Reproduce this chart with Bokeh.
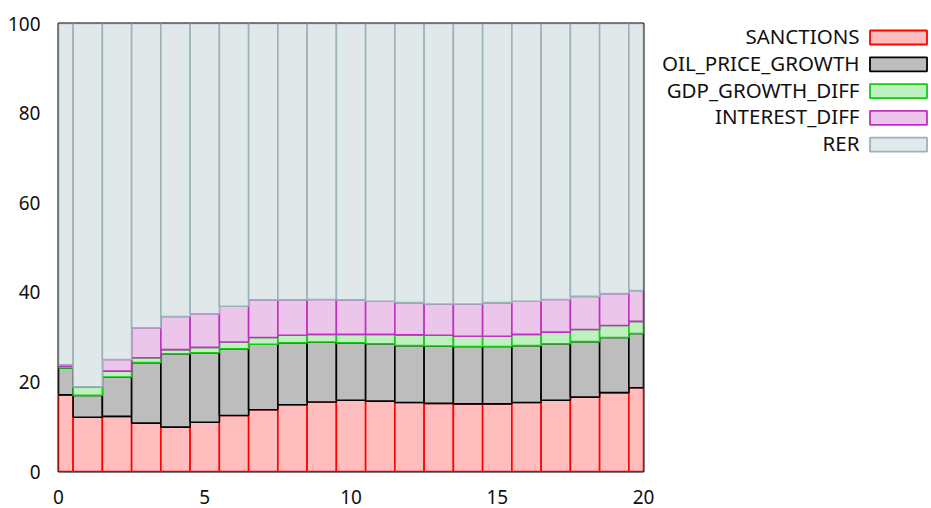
import numpy as np
from bokeh.plotting import figure
from bokeh.layouts import row
from bokeh.models import ColumnDataSource, Range1d, FixedTicker
from bokeh.core.properties import value
from bokeh.embed import file_html
from bokeh.resources import INLINE

# ---- data ----
periods = list(range(0, 21))
sanctions = [17.1, 12.1, 12.3, 10.8, 9.9, 11.0, 12.5, 13.8, 14.9, 15.5, 15.9,
             15.7, 15.4, 15.2, 15.1, 15.1, 15.4, 15.9, 16.6, 17.6, 18.7]
oil_price_growth = [6.0, 4.9, 8.8, 13.5, 16.4, 15.5, 14.9, 14.6, 13.8, 13.4, 12.8,
                    12.8, 12.7, 12.8, 12.8, 12.8, 12.7, 12.6, 12.4, 12.3, 12.1]
gdp_growth_diff = [0.4, 1.9, 1.3, 1.1, 0.9, 1.2, 1.5, 1.5, 1.7, 1.7, 1.9,
                   2.1, 2.4, 2.4, 2.3, 2.3, 2.5, 2.6, 2.7, 2.7, 2.7]
interest_diff = [0.3, 0.0, 2.6, 6.7, 7.4, 7.5, 8.0, 8.4, 7.9, 7.8, 7.7,
                 7.4, 7.2, 7.0, 7.2, 7.5, 7.4, 7.3, 7.4, 7.1, 6.9]
rer = [76.2, 81.1, 75.0, 67.9, 65.4, 64.8, 63.1, 61.7, 61.7, 61.6, 61.7,
       62.0, 62.3, 62.6, 62.6, 62.3, 62.0, 61.6, 60.9, 60.3, 59.6]

series_names = ["SANCTIONS", "OIL_PRICE_GROWTH", "GDP_GROWTH_DIFF", "INTEREST_DIFF", "RER"]
series_values = [sanctions, oil_price_growth, gdp_growth_diff, interest_diff, rer]
x_ticks = [0, 5, 10, 15, 20]
y_ticks = [0, 20, 40, 60, 80, 100]

# ---- styles ----
fills = ["#ffbdbd", "#bdbdbd", "#bff0bf", "#ecc6ea", "#e0e8ea"]
lines = ["#ff0000", "#000000", "#14c814", "#c030c0", "#9cb2ba"]
FONT = "Noto Sans"

p = figure(width=656, height=508, output_backend="svg", toolbar_location=None,
           x_range=Range1d(0, 20), y_range=Range1d(0, 100),
           min_border_left=58, min_border_right=13, min_border_top=23, min_border_bottom=37)

bottom = np.zeros(len(periods))
for name, vals, fc, lc in zip(series_names, series_values, fills, lines):
    vals = np.array(vals, dtype=float)
    src = ColumnDataSource(dict(x=periods, bottom=bottom.copy(), top=bottom + vals))
    p.vbar(x="x", width=1.0, bottom="bottom", top="top", source=src,
           fill_color=fc, line_color=lc, line_width=1.6)
    bottom = bottom + vals

p.xgrid.visible = False
p.ygrid.visible = False
p.xaxis.ticker = FixedTicker(ticks=x_ticks)
p.yaxis.ticker = FixedTicker(ticks=y_ticks)
for ax in (p.xaxis[0], p.yaxis[0]):
    ax.major_tick_line_color = None
    ax.minor_tick_line_color = None
    ax.axis_line_color = None
    ax.major_label_text_font = FONT
    ax.major_label_text_font_size = "19px"
    ax.major_label_text_color = "#111111"
p.xaxis.major_label_standoff = 12
p.yaxis.major_label_standoff = 12
p.outline_line_color = "#000000"
p.outline_line_width = 2
p.outline_line_alpha = 1.0

# ---- legend panel (label left of swatch) ----
leg = figure(width=275, height=508, output_backend="svg", toolbar_location=None,
             x_range=Range1d(0, 275), y_range=Range1d(471, 23),
             x_axis_type=None, y_axis_type=None,
             min_border_left=0, min_border_right=0, min_border_top=23, min_border_bottom=37,
             outline_line_color=None)
leg.xgrid.visible = False
leg.ygrid.visible = False
row_y = [37 + 26.8 * i for i in range(len(series_names))]
text_y = [y - 1.5 for y in row_y]
leg.text(x=[203] * len(series_names), y=text_y, text=series_names,
         text_align="right", text_baseline="middle",
         text_font=value(FONT), text_font_size="20.5px", text_color="#111111")
leg.rect(x=[242] * len(series_names), y=row_y, width=57, height=14,
         fill_color=fills, line_color=lines, line_width=1.8)

layout = row(p, leg)
open("out.html", "w").write(file_html(layout, INLINE))
